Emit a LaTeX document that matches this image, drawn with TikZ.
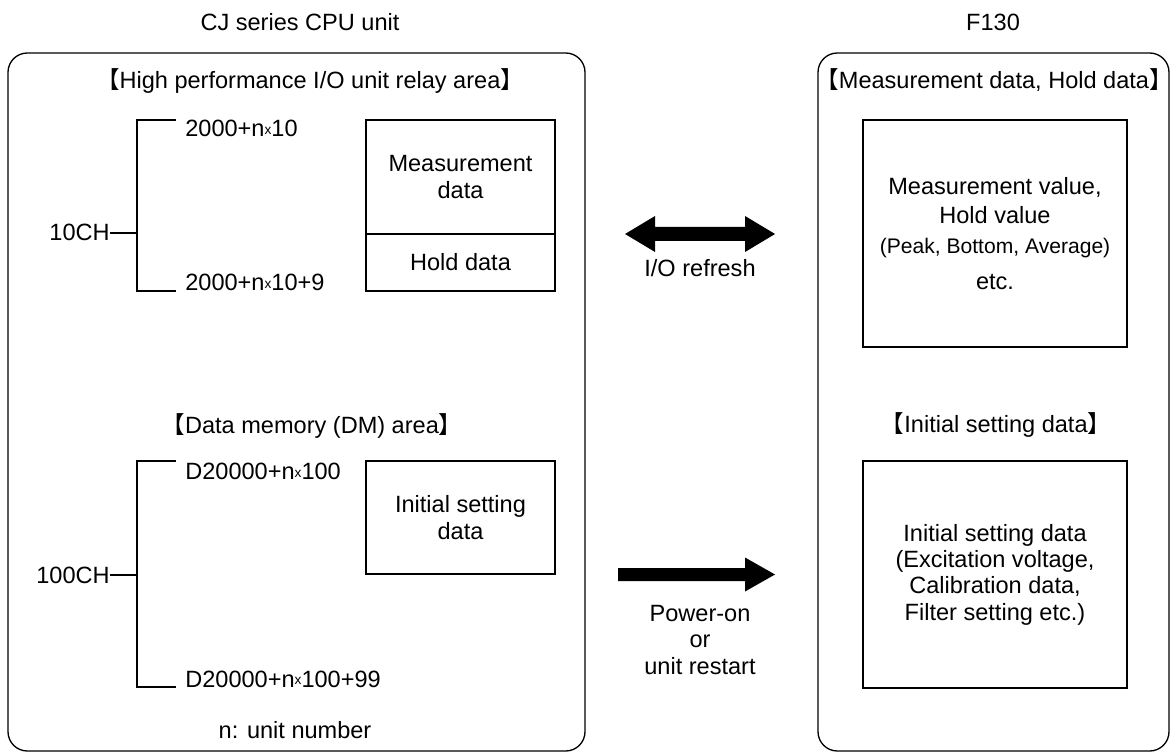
\documentclass[tikz,border=0pt]{standalone}
\usepackage{fontspec}
\setmainfont{Liberation Sans}
\newfontfamily\cjkfont{Noto Sans CJK JP}
\newcommand{\lbr}{{\cjkfont 【}}
\newcommand{\rbr}{{\cjkfont 】}}
\newcommand{\smx}{\raisebox{1.3pt}{\fontsize{7.8}{8}\selectfont x}}
\tikzset{
  unitbox/.style={draw,line width=0.75pt,rounded corners=11pt},
  databox/.style={draw,line width=1.3pt,outer sep=0pt,align=center,
    font=\fontsize{13.4}{15}\selectfont},
  lbl/.style={inner sep=0pt,align=center,font=\fontsize{13.4}{15}\selectfont},
  brk/.style={line width=1.3pt},
}
\begin{document}
\begin{tikzpicture}[x=0.02cm,y=-0.02cm]
\useasboundingbox (0,0) rectangle (1172,756);
% unit frames
\draw[unitbox] (8,53) rectangle (585,751);
\draw[unitbox] (818,53) rectangle (1169,751);
\node[lbl,anchor=base] (cpu) at (300,31) {CJ series CPU unit};
\node[lbl,anchor=base] (f130) at (993,31) {F130};

% relay area
\node[lbl,anchor=base] (relay) at (310,89) {\lbr High performance I/O unit relay area\rbr};
\coordinate (br1) at (137,120);
\draw[brk] (176,120) -- (br1) -- (137,291) -- (176,291);
\node[lbl,anchor=north west] (lo1) at (185,120) {2000+n\smx 10};
\node[lbl,anchor=base west] (hi1) at (185,291) {2000+n\smx 10+9};
\node[lbl,anchor=base east] (ch10) at (110,241) {10CH};
\draw[brk] (ch10.east) -- (ch10.east -| br1);
\node[databox,minimum width=3.78cm,minimum height=2.28cm] (meas) at (460.5,177) {Measurement\\data};
\node[databox,minimum width=3.78cm,minimum height=1.14cm,anchor=north] (hold) at (meas.south) {Hold data};

% DM area
\node[lbl,anchor=base] (dm) at (312,433) {\lbr Data memory (DM) area\rbr};
\coordinate (br2) at (137,461);
\draw[brk] (176,461) -- (br2) -- (137,687) -- (176,687);
\node[lbl,anchor=north west] (lo2) at (185,463) {D20000+n\smx 100};
\node[lbl,anchor=base west] (hi2) at (185,687) {D20000+n\smx 100+99};
\node[lbl,anchor=base east] (ch100) at (110,583) {100CH};
\draw[brk] (ch100.east) -- (ch100.east -| br2);
\node[databox,minimum width=3.78cm,minimum height=2.26cm] (init) at (460.5,517.5) {Initial setting\\data};
\node[lbl,anchor=base] (unitno) at (295,738) {n: unit number};

% arrows
\fill (625,234) -- (655,216) -- (655,227) -- (745,227) -- (745,216) -- (775,234)
  -- (745,252) -- (745,241) -- (655,241) -- (655,252) -- cycle;
\node[lbl,anchor=base] (refresh) at (700,277) {I/O refresh};
\fill (618,568) -- (745,568) -- (745,557.5) -- (775,574.5) -- (745,591.5)
  -- (745,581) -- (618,581) -- cycle;
\node[lbl,anchor=north] (power) at (700,605) {Power-on\\or\\unit restart};

% F130 side
\node[lbl,anchor=base] (holdttl) at (994,89) {\lbr Measurement data, Hold data\rbr};
\node[databox,minimum width=5.28cm,minimum height=4.54cm] (measval) at (995,233.5)
  {Measurement value,\\[1.5pt]Hold value\\[2pt]{\fontsize{12}{14}\selectfont (Peak, Bottom, Average)}\\[5.5pt]etc.};
\node[lbl,anchor=base] (initttl) at (996,432) {\lbr Initial setting data\rbr};
\node[databox,minimum width=5.28cm,minimum height=4.54cm] (initval) at (995,574.5)
  {Initial setting data\\(Excitation voltage,\\Calibration data,\\Filter setting etc.)};
\end{tikzpicture}
\end{document}
